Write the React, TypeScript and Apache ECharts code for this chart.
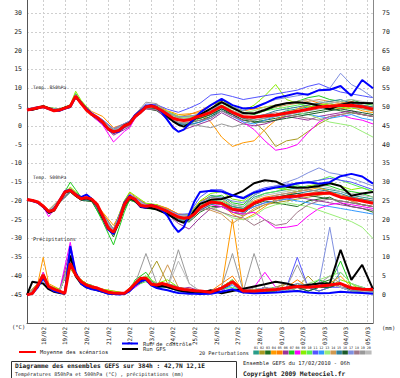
import React, { useEffect, useRef } from "react";
import * as echarts from "echarts";

// Forecast hours (run 17/02/2010 06h): 6h steps to 192h, then 12h
const HOURS = [0,6,12,18,24,30,36,42,48,54,60,66,72,78,84,90,96,102,108,114,120,126,132,138,144,150,156,162,168,174,180,186,192,204,216,228,240,252,264,276,288,300,312,324,336,348,360,372,384];
// Hours used for the 20 perturbations
const P_HOURS = [0,12,18,24,36,48,54,60,72,84,96,108,114,120,132,144,156,168,180,192,204,216,228,240,252,264,276,288,300,312,324,336,348,360,372,384];

const TICK_HOURS = [18,42,66,90,114,138,162,186,210,234,258,282,306,330,354,378];
const DATE_LABELS = ["18/02","19/02","20/02","21/02","22/02","23/02","24/02","25/02","26/02","27/02","28/02","01/03","02/03","03/03","04/03","05/03"];
const Y_LEFT_TICKS = [30,25,20,15,10,5,0,-5,-10,-15,-20,-25,-30,-35,-40,-45];
const Y_RIGHT_TICKS = [75,70,65,60,55,50,45,40,35,30,25,20,15,10,5,0];

// Temp 850 hPa (°C)
const MEAN_850 = [4.2,4.5,4.8,5.1,4.6,4.0,4.2,4.7,5.2,7.9,6.0,4.2,3.0,2.2,1.0,-0.8,-1.6,-1.2,0.0,0.6,2.5,3.6,5.0,5.3,4.8,4.0,3.0,2.0,1.6,1.4,1.6,2.2,2.6,3.6,5.2,3.6,2.4,2.3,2.6,2.9,3.4,3.9,4.4,5.0,5.2,5.4,5.5,5.1,4.4];
const CTRL_850 = [4.3,4.4,4.9,5.0,4.5,4.0,4.0,4.6,5.0,7.6,6.2,4.5,3.2,2.0,0.8,-1.0,-1.8,-1.5,-0.2,0.8,2.8,4.0,5.2,5.5,5.0,3.5,1.5,-0.5,-1.6,-1.0,0.5,2.0,3.5,5.5,7.2,5.5,4.6,4.8,6.0,7.4,8.0,8.7,8.3,9.5,9.6,10.6,8.0,12.2,10.0];
const GFS_850 = [4.2,4.3,4.7,5.2,4.7,4.1,4.3,4.8,5.3,7.8,6.1,4.3,3.0,2.1,0.9,-0.9,-1.7,-1.3,0.1,0.8,2.7,3.9,5.1,5.4,4.7,3.8,2.5,1.2,0.3,-0.2,0.5,1.8,3.0,4.6,6.3,4.8,3.4,3.3,4.2,5.4,6.0,6.3,6.0,5.4,4.4,5.6,6.2,6.1,6.0];

// Temp 500 hPa (°C)
const MEAN_500 = [-19.6,-19.9,-20.3,-21.4,-22.8,-22.4,-20.0,-17.6,-17.2,-18.4,-19.4,-19.1,-19.6,-21.0,-24.0,-27.2,-28.3,-25.5,-21.0,-18.9,-19.6,-21.2,-21.4,-21.2,-21.6,-22.2,-22.8,-23.6,-24.3,-24.6,-24.4,-23.5,-21.8,-20.3,-20.6,-22.2,-22.6,-20.6,-19.5,-19.2,-18.9,-18.7,-18.3,-18.0,-17.9,-19.0,-19.5,-20.0,-20.6];
const CTRL_500 = [-19.6,-20.0,-20.5,-21.6,-23.0,-22.2,-19.8,-17.4,-17.0,-18.2,-19.0,-18.3,-19.5,-21.2,-24.3,-27.6,-28.8,-25.0,-20.5,-18.6,-19.8,-21.5,-21.8,-21.0,-21.5,-22.5,-24.0,-26.5,-28.3,-27.0,-23.5,-20.0,-17.6,-17.3,-17.5,-18.5,-19.3,-17.8,-17.0,-16.4,-16.0,-15.3,-15.0,-15.4,-15.0,-13.4,-12.8,-13.5,-15.4];
const GFS_500 = [-19.6,-19.8,-20.4,-21.5,-23.2,-22.6,-20.2,-17.8,-17.3,-18.6,-19.6,-19.3,-19.8,-21.3,-24.5,-27.5,-28.6,-25.8,-21.2,-19.2,-20.0,-21.6,-21.8,-21.9,-22.3,-22.9,-23.5,-24.4,-25.3,-25.8,-24.6,-22.5,-20.8,-19.7,-19.5,-18.6,-17.3,-15.3,-14.5,-14.8,-16.2,-16.5,-16.4,-16.0,-15.3,-16.0,-18.6,-18.0,-17.6];

// Precipitations (mm, right axis)
const MEAN_PR = [0,0.4,2.5,5.3,2.2,1.5,1.0,0.4,8.4,5.3,3.5,2.6,2.1,1.8,1.2,0.7,0.5,0.4,0.4,1.5,3.0,4.4,4.4,2.8,2.6,3.0,2.6,2.1,1.7,1.4,1.3,1.1,1.0,0.7,1.8,3.5,1.0,1.0,1.2,1.4,1.8,2.2,2.0,2.3,2.6,3.0,1.8,1.5,1.4];
const CTRL_PR = [0,0.3,2.0,4.5,2.0,1.0,0.6,0.3,13.0,6.0,3.0,2.0,1.5,1.2,0.8,0.3,0.2,0.1,0.2,1.0,2.5,3.6,4.0,2.5,1.8,1.5,1.2,0.8,0.5,0.4,0.3,0.3,0.2,0.3,0.8,1.5,0.6,0.4,0.5,0.6,0.8,1.0,0.6,0.4,0.5,0.8,0.6,0.5,0.3];
const GFS_PR = [0,3.5,3.2,3.0,1.5,0.8,0.5,0.3,10.5,5.0,3.0,2.0,1.6,1.2,0.8,0.4,0.3,0.2,0.3,1.2,2.8,4.0,4.2,2.6,2.0,2.4,2.0,1.6,1.2,0.9,0.7,0.5,0.4,1.2,0.4,1.0,1.6,2.2,2.8,3.5,3.0,2.2,2.6,3.0,3.0,12.0,4.0,8.0,1.5];

// 20 perturbations, 850 hPa
const PERT_850 = [
  [4.0,4.6,5.0,4.4,4.0,5.0,8.2,6.2,3.2,1.2,-1.8,-0.3,0.5,2.8,5.4,5.0,3.2,1.8,1.8,2.0,3.0,4.5,3.5,2.0,1.5,2.0,3.0,4.0,4.5,5.0,5.5,6.0,6.5,5.5,5.0,4.0],
  [4.3,4.9,5.2,4.5,4.1,5.3,7.5,5.8,3.3,1.5,-1.0,0.3,1.0,2.4,4.8,4.4,2.8,2.2,2.6,3.0,4.0,5.5,4.0,2.5,1.0,-1.5,-5.5,-4.0,-3.5,-1.5,0.5,2.0,3.0,3.5,3.0,2.5],
  [4.1,4.7,5.0,4.7,4.3,5.1,7.8,6.3,2.8,0.6,-2.0,-0.5,0.2,2.2,4.6,4.0,2.0,0.5,0.8,1.5,2.5,4.0,3.0,1.5,1.0,1.5,2.0,2.5,3.0,3.5,4.0,4.5,4.0,3.5,3.0,2.5],
  [4.4,5.0,5.3,4.8,4.4,5.4,7.2,6.5,3.8,2.5,-0.5,0.5,1.2,2.9,5.3,5.6,4.0,3.0,3.2,3.5,1.0,-3.0,-5.5,-4.5,-4.0,-1.0,1.5,3.0,4.5,5.5,6.0,5.0,4.5,5.0,4.0,3.5],
  [4.2,4.8,5.2,4.6,4.1,5.0,8.0,5.9,2.9,0.8,-1.5,0.2,0.9,2.6,5.1,4.9,3.6,2.4,3.0,4.0,5.5,6.5,5.0,4.0,4.5,5.0,5.5,6.0,6.5,7.0,6.0,5.5,6.0,6.5,5.5,5.0],
  [4.0,4.5,4.9,4.3,4.0,4.9,7.9,5.7,2.6,0.4,-2.5,-1.0,-0.2,2.0,4.5,4.2,1.5,-1.5,-0.5,0.5,1.5,3.5,2.0,0.5,0.0,0.5,1.5,2.5,2.0,1.5,2.5,3.0,3.5,4.0,3.0,2.5],
  [4.3,4.9,5.1,4.7,4.3,5.4,8.6,6.4,3.1,1.0,-1.7,0.1,0.8,2.7,5.2,5.0,3.4,2.0,2.2,3.0,4.5,7.0,5.0,3.5,3.0,4.0,5.0,6.0,6.5,7.5,8.0,7.0,6.5,7.0,6.0,5.5],
  [4.1,4.7,5.0,4.5,4.2,5.1,7.7,5.8,2.7,0.2,-4.3,-1.5,-0.5,2.1,4.9,4.6,3.0,1.8,1.5,2.5,3.5,5.0,3.0,1.0,-1.0,-4.0,-6.5,-6.0,-5.0,-1.8,1.0,2.5,3.0,2.0,1.5,0.5],
  [4.4,5.0,5.4,4.9,4.5,5.6,9.2,6.8,3.4,1.3,-1.2,0.4,1.1,3.0,5.5,5.3,3.8,2.6,2.5,3.0,4.0,6.0,5.0,4.0,5.5,8.0,11.0,7.0,6.0,5.0,5.5,6.0,5.0,4.5,5.0,4.0],
  [4.2,4.8,5.1,4.6,4.2,5.2,7.6,5.9,2.9,0.9,-1.9,-0.2,0.4,2.3,4.8,4.6,2.6,0.8,0.6,2.0,3.0,5.0,4.0,3.0,3.5,4.0,4.5,5.0,5.5,6.0,5.0,4.5,5.0,5.5,4.5,4.0],
  [4.5,5.1,5.3,4.8,4.4,5.5,8.3,6.3,3.5,1.6,-0.8,0.6,1.3,3.2,5.8,5.6,4.4,3.6,4.7,6.0,8.2,8.5,7.8,7.0,7.5,8.0,8.5,9.0,9.5,10.5,11.2,10.0,9.0,8.5,8.0,7.5],
  [4.0,4.6,4.9,4.4,4.0,4.9,7.8,5.8,2.8,0.7,-1.8,-0.4,0.3,2.4,4.9,4.4,2.2,0.6,0.4,1.0,2.0,4.0,2.5,1.0,0.5,1.5,2.5,3.0,3.5,3.0,2.5,2.0,2.5,3.0,2.0,1.5],
  [4.3,4.9,5.2,4.7,4.3,5.3,8.1,6.1,3.0,1.1,-1.4,0.2,0.9,2.6,5.1,4.9,3.2,2.0,2.3,2.5,3.5,5.5,4.5,3.5,4.0,5.0,5.5,4.5,3.5,3.0,2.0,1.0,0.5,0.0,-1.5,-3.0],
  [4.2,4.7,5.0,4.5,4.1,5.1,7.9,5.9,3.0,1.0,-1.5,0.1,0.7,2.5,5.0,4.7,2.9,1.5,1.6,2.0,3.0,5.0,4.0,3.0,3.5,4.5,5.0,5.5,6.0,6.5,7.0,6.5,6.0,6.5,5.5,5.0],
  [4.1,4.6,5.0,4.4,4.1,5.0,7.7,6.0,3.1,1.1,-1.6,-0.1,0.5,2.4,4.8,4.5,2.5,0.5,0.2,1.0,2.5,4.5,3.5,2.0,2.5,3.0,4.0,4.5,5.0,5.5,6.0,6.5,7.0,6.0,5.5,5.0],
  [4.3,4.8,5.1,4.6,4.2,5.2,8.0,6.1,3.0,1.0,-1.7,0.0,0.6,2.5,4.9,4.6,2.8,1.4,1.6,2.0,3.0,4.5,3.0,1.5,1.0,1.0,1.5,2.0,2.5,3.0,3.5,4.0,4.5,4.0,3.5,3.0],
  [4.2,4.8,5.2,4.7,4.2,5.3,8.2,6.0,3.1,1.2,-1.3,0.3,1.0,2.8,5.3,5.1,3.6,2.4,2.6,3.0,4.0,6.0,5.0,4.0,5.0,6.0,7.0,7.5,8.0,8.5,9.5,10.0,14.0,11.0,9.5,7.5],
  [4.1,4.7,5.0,4.5,4.1,5.0,7.5,5.6,2.7,0.6,-2.2,-0.6,0.1,2.2,4.6,4.3,2.3,0.9,1.0,1.5,2.0,4.0,2.5,1.5,2.0,3.0,3.5,3.0,2.5,2.0,1.5,2.5,3.0,3.5,3.0,2.5],
  [4.3,4.9,5.2,4.7,4.3,5.3,7.8,6.2,3.2,1.4,-1.0,0.5,1.2,3.0,6.3,5.9,3.3,1.0,0.3,0.0,-0.5,0.5,-0.3,0.5,1.5,2.0,2.5,3.0,3.5,4.0,4.5,5.0,5.5,5.0,4.5,4.0],
  [4.2,4.8,5.1,4.6,4.2,5.2,8.0,6.0,3.0,1.1,-1.5,0.1,0.8,2.6,5.1,4.8,3.1,1.9,2.1,2.5,3.5,5.0,4.0,3.0,3.5,4.5,5.5,6.0,6.5,7.0,6.5,6.0,6.5,7.0,6.5,6.0],
];

// 20 perturbations, 500 hPa
const PERT_500 = [
  [-19.6,-20.2,-21.2,-22.5,-19.8,-16.8,-18.0,-19.2,-19.4,-23.5,-27.8,-20.4,-18.4,-19.2,-21.0,-21.2,-22.2,-23.8,-24.0,-20.5,-18.5,-19.0,-21.0,-21.5,-19.0,-18.0,-17.5,-17.0,-16.5,-16.0,-16.5,-17.0,-17.5,-18.5,-19.0,-19.5],
  [-19.5,-20.4,-21.5,-23.0,-20.3,-17.5,-18.6,-19.6,-20.0,-24.8,-29.0,-21.8,-19.4,-20.0,-21.8,-22.0,-23.3,-24.8,-25.0,-22.0,-20.5,-21.0,-23.0,-24.0,-22.5,-21.0,-20.5,-20.0,-19.5,-19.0,-18.5,-18.0,-19.0,-20.0,-21.0,-21.5],
  [-19.7,-20.5,-21.6,-23.2,-20.5,-17.7,-18.8,-19.8,-20.2,-25.0,-29.6,-22.2,-19.8,-20.2,-21.9,-22.3,-23.6,-25.2,-25.6,-23.0,-21.5,-21.5,-23.0,-23.5,-21.0,-20.0,-20.5,-21.0,-21.5,-20.0,-19.5,-19.0,-20.5,-21.5,-22.0,-23.0],
  [-19.6,-20.3,-21.3,-22.6,-20.0,-17.3,-18.5,-19.5,-19.3,-23.0,-26.5,-21.5,-19.5,-19.8,-21.0,-21.1,-22.0,-23.5,-23.8,-21.0,-20.0,-21.0,-23.5,-25.0,-23.5,-21.5,-19.5,-18.5,-17.5,-17.0,-16.5,-17.5,-18.5,-19.0,-19.5,-20.0],
  [-19.5,-20.2,-21.1,-22.4,-19.6,-16.5,-17.8,-19.0,-19.2,-23.2,-27.5,-20.0,-17.8,-18.9,-20.8,-21.0,-22.0,-23.5,-23.7,-20.0,-19.0,-19.5,-21.5,-22.0,-20.0,-19.0,-18.5,-18.0,-17.5,-17.0,-17.5,-18.0,-18.5,-19.0,-19.5,-20.5],
  [-19.6,-20.3,-21.4,-22.9,-20.1,-17.2,-18.3,-19.4,-19.7,-24.2,-28.4,-21.2,-19.0,-19.8,-21.6,-22.0,-23.5,-26.0,-27.5,-24.5,-22.0,-21.5,-22.5,-23.0,-21.5,-20.5,-20.0,-19.5,-19.0,-19.5,-20.0,-20.5,-21.0,-21.5,-22.0,-22.5],
  [-19.6,-20.4,-21.6,-23.1,-20.2,-15.0,-17.0,-19.0,-19.8,-25.5,-31.7,-23.0,-19.5,-20.4,-22.0,-22.2,-23.2,-24.6,-24.8,-21.5,-19.0,-18.5,-20.5,-21.0,-18.5,-17.0,-16.5,-16.5,-16.0,-16.5,-15.5,-16.0,-17.0,-17.5,-18.0,-19.0],
  [-19.6,-20.2,-21.5,-24.2,-20.4,-17.4,-18.6,-19.5,-19.6,-24.0,-28.8,-21.0,-18.6,-19.6,-21.4,-21.6,-22.8,-24.2,-24.6,-22.5,-21.0,-21.5,-23.0,-23.5,-23.0,-25.0,-27.2,-27.0,-26.5,-24.0,-22.0,-21.0,-20.5,-21.0,-21.5,-22.0],
  [-19.5,-20.2,-21.2,-22.5,-19.8,-16.3,-17.6,-19.0,-19.2,-23.5,-27.5,-20.0,-17.6,-18.6,-20.6,-21.0,-22.4,-23.8,-23.6,-20.0,-18.0,-17.5,-19.5,-20.0,-18.0,-17.0,-16.5,-17.0,-17.5,-16.0,-15.5,-15.0,-16.0,-17.0,-16.5,-17.5],
  [-19.7,-20.4,-21.4,-23.0,-20.2,-17.4,-18.6,-19.6,-19.8,-24.2,-28.5,-21.6,-19.2,-20.0,-21.8,-22.0,-23.0,-24.6,-25.0,-22.0,-20.0,-20.0,-21.5,-22.0,-19.5,-18.0,-17.5,-16.5,-15.5,-15.0,-14.5,-13.5,-14.5,-15.5,-16.5,-17.5],
  [-19.6,-20.3,-21.3,-22.7,-19.9,-17.0,-18.2,-19.3,-19.4,-23.6,-27.6,-20.5,-18.2,-19.2,-21.0,-21.3,-22.4,-23.6,-23.4,-19.0,-17.0,-17.0,-18.5,-19.0,-17.5,-16.5,-16.0,-15.5,-15.5,-15.0,-14.5,-14.0,-14.5,-15.0,-16.0,-17.0],
  [-19.6,-20.3,-21.4,-22.8,-20.0,-17.2,-18.4,-19.4,-19.6,-24.0,-28.3,-21.0,-18.8,-19.6,-21.4,-21.6,-22.6,-24.0,-24.2,-21.5,-20.5,-21.0,-22.5,-23.0,-21.5,-20.5,-20.0,-19.5,-20.0,-20.5,-21.0,-21.5,-22.0,-22.5,-23.0,-23.5],
  [-19.6,-20.3,-21.3,-22.7,-19.8,-16.8,-18.1,-19.3,-19.5,-24.0,-28.6,-21.4,-19.0,-19.8,-21.6,-21.8,-22.8,-24.0,-24.0,-21.0,-21.5,-23.0,-24.5,-25.0,-24.0,-22.0,-21.0,-20.5,-21.0,-21.5,-22.5,-23.5,-24.5,-25.5,-27.0,-30.0],
  [-19.6,-20.3,-21.4,-22.8,-20.0,-17.1,-18.3,-19.3,-19.5,-23.8,-28.0,-20.8,-18.7,-19.5,-21.3,-21.5,-22.5,-23.9,-24.2,-22.0,-22.5,-23.5,-26.0,-24.0,-22.0,-21.0,-20.0,-19.0,-18.5,-18.0,-17.5,-18.0,-19.0,-20.0,-21.0,-21.5],
  [-19.6,-20.4,-21.5,-23.0,-20.2,-17.5,-18.7,-19.7,-19.9,-24.4,-28.9,-21.6,-19.3,-20.0,-21.8,-22.1,-23.4,-25.0,-25.2,-22.5,-21.0,-20.5,-21.5,-22.0,-20.5,-19.5,-19.0,-18.5,-18.0,-17.5,-17.0,-17.5,-18.0,-19.0,-19.5,-20.0],
  [-19.6,-20.3,-21.3,-22.8,-20.0,-17.2,-18.4,-19.4,-19.6,-24.1,-28.4,-21.2,-19.0,-19.7,-21.5,-21.7,-22.8,-24.3,-24.5,-22.0,-20.5,-20.5,-22.0,-22.5,-20.5,-19.5,-19.0,-18.5,-18.0,-18.5,-19.0,-19.5,-20.0,-20.5,-21.0,-21.5],
  [-19.6,-20.2,-21.2,-22.6,-19.8,-16.9,-18.1,-19.2,-19.4,-23.6,-27.8,-20.6,-18.4,-19.3,-21.1,-21.3,-22.4,-23.8,-23.8,-20.5,-19.0,-19.0,-20.0,-20.5,-18.5,-17.0,-16.0,-15.0,-14.0,-12.5,-11.2,-12.5,-13.0,-14.0,-15.0,-16.0],
  [-19.6,-20.4,-21.5,-22.9,-20.1,-17.3,-18.5,-19.5,-19.7,-24.2,-28.6,-21.3,-19.1,-19.9,-21.7,-21.9,-23.0,-24.6,-24.8,-22.5,-22.0,-23.0,-24.0,-24.5,-26.5,-25.0,-26.5,-26.0,-23.0,-21.0,-20.0,-19.5,-20.0,-20.5,-21.0,-21.5],
  [-19.6,-20.3,-21.4,-22.8,-20.0,-17.1,-18.3,-19.4,-19.6,-23.9,-28.1,-21.0,-18.8,-19.6,-21.4,-21.6,-22.7,-24.1,-24.3,-21.5,-20.0,-20.5,-22.0,-22.5,-20.5,-19.5,-18.5,-18.0,-17.5,-17.0,-17.5,-18.0,-18.5,-19.5,-20.0,-20.5],
  [-19.6,-20.3,-21.3,-22.7,-19.9,-17.0,-18.2,-19.3,-19.5,-23.8,-28.0,-20.8,-18.6,-19.4,-21.2,-21.4,-22.5,-23.9,-24.1,-21.0,-19.5,-19.5,-21.0,-21.5,-19.5,-18.5,-18.0,-17.5,-17.0,-16.5,-16.0,-16.5,-17.5,-18.0,-18.5,-19.0],
];

// 20 perturbations, precipitations (mm)
const PERT_PR = [
  [0,2,5,2,1,9,5,3,2,1,0.5,0.3,1.5,3,5,2,3,2,1,0.5,0.5,2,4,1,0.5,1,2,1,3,2,4,2,6,3,2,1],
  [0,3,6,2.5,1,8,5.5,4,2,1.5,0.5,0.5,2,3.5,4,9,3,2,1.5,1,1,2,3,1,1,2,1,3,2,5,2,3,2,1,0.5,1],
  [0,2.5,4.5,2,0.5,10,6,3,2.5,1,0.3,0.2,1,2.5,4,2,2,1,1,1,0.5,1.5,3,0.5,2,1,1,2,1,2,3,4,2,1,1,0.5],
  [0,3,10,3,1.5,7,5,4,2,1.5,1,0.5,2,3,4.5,3,2.5,2,1,1,0.5,2,20,1,0.5,1,2,3,2,1,2,3,5,2,1,2],
  [0,2,5,2,1,9.5,5,3.5,2,1,0.5,0.5,1.5,3,5,2.5,3,1.5,1,1,1,3,5,1,1,1.5,1,2,4,2,1,2,3,2,2,1],
  [0,2.5,5.5,2.5,1,12,6,3,2,1,0.5,0.3,1.5,3,4,3,2,1.5,2,1,0.5,1,3,1.5,1,2,1,1.5,2,3,2,3,2,1.5,1,1],
  [0,2,5,2,1,8,5,3.5,2.5,1,0.5,0.5,1,4,6,2,3,2,1,0.5,1,2,4,1,1,1.5,2,1,3,2,4,3,9,2,2,1],
  [0,2.5,6,2,1,14,6,3,2,1,0.3,0.2,1,2,4,2.5,2,1.5,1,1,0.5,1,3,1,2,6,2,1,1,2,3,2,3,2,1,2],
  [0,3,5,2.5,1.5,7,5,4,2,1.5,1,0.5,2,3.5,5,3,4,2,1,1,1,2,4,1,1,1,2,3,2,1,2,2,4,3,1,1],
  [0,2,5,2,1,9,5,3,2,1,0.5,0.3,1.5,2.5,3.5,2,2,1.5,1,0.5,0.5,1.5,2,1,1,1,1,2,1,2,1,2,3,1,1,0.5],
  [0,2.5,5,2,1,8.5,5.5,3.5,2,1,0.5,0.5,1.5,3,4.5,2.5,3,1.5,1,1,1,2,3,1,1,2,1,2,10,2,1,2,2,1,2,1],
  [0,2,4,2,1,9,5,3,2,1,0.5,0.3,1,3,4,2,2,1,1,0.5,0.5,1.5,2.5,1,1,1,1.5,1,2,1,2,3,2,1,1,0.5],
  [0,2.5,5.5,2.5,1,8,5,3.5,2,1,0.5,0.5,2,3.5,5,3,3,2,1,1,1,2,4,1,1.5,1,2,1,2,3,4,5,6,3,2,1],
  [0,3,5,2,1,9,5,3,2.5,1.5,0.5,0.5,1.5,3,4,2,8,2,1,1,0.5,2,3,1,1,2,1,2,3,2,2,3,2,2,1,1],
  [0,2,5,2,1,9,6,3.5,2,1,0.5,0.3,1.5,3,4.5,2,2,1.5,1,0.5,1,2,3,1,1,1,2,1,2,3,2,2,3,2,1,1],
  [0,2.5,5,2.5,1,8,5,3,2,1,0.5,0.5,1.5,2.5,4,2.5,2,1.5,1,1,0.5,1.5,3,1,1,1,1,2,2,1,2,2,3,1,1,1],
  [0,2,5,2,1,9,5,3,2,1,0.5,0.5,1.5,3,4,2,2.5,2,1,1,1,2,3,1,1,2,1.5,2,3,2,3,18,2,2,1,1],
  [0,2.5,5,2,1,8.5,5.5,3.5,2,1,0.5,0.3,1.5,3,4.5,2.5,3,2,1.5,1,1,2,3.5,1.5,1,1,2,3,2,2,2,3,2,2,1,1],
  [0,2,5,2,1,9,5,3.5,2,1,0.5,0.5,1,3,11,3,2,12,3,1,1,2,11,1,11,2,1,2,8,2,3,5,3,2,1,1],
  [0,2.5,5,2.5,1,8,5,3,2,1,0.5,0.3,1.5,3,4,2.5,2,9,3,1,1,2,3,1,2,1,2,1,2,3,2,3,2,1,1,0.5],
];

const PERT_NAMES = ["01","02","03","04","05","06","07","08","09","10","11","12","13","14","15","16","17","18","19","20"];
const PERT_COLORS = ["#2a9d8a","#a89a20","#1f6f1f","#ff9900","#ff7f00","#993399","#22cc22","#ff00ff","#88ee00","#55ee55","#5555ff","#3399ff","#99ee77","#d09850","#2f7f9a","#1a5a2a","#7f8fe0","#a07888","#999999","#bbbbbb"];

const MONO = '"DejaVu Sans Mono"';
const TXT = "#222";

function pairs(hours: number[], vals: number[]) {
  return hours.map((h, i) => [h, vals[i]]);
}

function line(name: string, data: number[][], color: string, width: number, yAxisIndex: number, z: number) {
  return {
    type: "line",
    name,
    data,
    yAxisIndex,
    showSymbol: false,
    symbol: "none",
    silent: true,
    clip: true,
    z,
    lineStyle: { color, width },
    itemStyle: { color },
    emphasis: { disabled: true },
  };
}

function buildOption() {
  const series: any[] = [];
  PERT_850.forEach((v, i) => series.push(line("p850_" + PERT_NAMES[i], pairs(P_HOURS, v), PERT_COLORS[i], 1, 0, 2)));
  PERT_500.forEach((v, i) => series.push(line("p500_" + PERT_NAMES[i], pairs(P_HOURS, v), PERT_COLORS[i], 1, 0, 2)));
  PERT_PR.forEach((v, i) => series.push(line("ppr_" + PERT_NAMES[i], pairs(P_HOURS, v), PERT_COLORS[i], 1, 1, 2)));
  series.push(line("gfs850", pairs(HOURS, GFS_850), "#000000", 2, 0, 3));
  series.push(line("gfs500", pairs(HOURS, GFS_500), "#000000", 2, 0, 3));
  series.push(line("gfspr", pairs(HOURS, GFS_PR), "#000000", 2, 1, 3));
  series.push(line("ctl850", pairs(HOURS, CTRL_850), "#0000ff", 2, 0, 4));
  series.push(line("ctl500", pairs(HOURS, CTRL_500), "#0000ff", 2, 0, 4));
  series.push(line("ctlpr", pairs(HOURS, CTRL_PR), "#0000ff", 2, 1, 4));
  series.push(line("moy850", pairs(HOURS, MEAN_850), "#ff0000", 3, 0, 5));
  series.push(line("moy500", pairs(HOURS, MEAN_500), "#ff0000", 3, 0, 5));
  series.push(line("moypr", pairs(HOURS, MEAN_PR), "#ff0000", 3, 1, 5));

  const txt = (text: string, x: number, y: number, size: number, bold = false, align = "left") => ({
    type: "text",
    x,
    y,
    z: 100,
    silent: true,
    style: {
      text,
      fill: TXT,
      font: (bold ? "bold " : "") + size + "px " + MONO,
      align,
      verticalAlign: "middle",
    },
  });

  const graphic: any[] = [
    txt("Temp. 850hPa", 33, 87, 4.6),
    txt("Temp. 500hPa", 33, 177, 4.6),
    txt("Précipitations", 33, 239, 5.1),
    txt("(°C)", 12, 327, 5.5),
    txt("(mm)", 382, 328, 5.5),
    { type: "line", z: 100, shape: { x1: 19, y1: 352, x2: 36, y2: 352 }, style: { stroke: "#ff0000", lineWidth: 2 } },
    txt("Moyenne des scénarios", 40, 352, 5.4),
    { type: "line", z: 100, shape: { x1: 122, y1: 343.5, x2: 138, y2: 343.5 }, style: { stroke: "#0000ff", lineWidth: 2 } },
    txt("Run de contrôle", 143, 343.5, 5.4),
    { type: "line", z: 100, shape: { x1: 122, y1: 349, x2: 138, y2: 349 }, style: { stroke: "#000000", lineWidth: 2 } },
    txt("Run GFS", 143, 349, 5.4),
    txt("20 Perturbations", 199, 353, 5.2),
    { type: "rect", z: 99, shape: { x: 11.5, y: 361.5, width: 225, height: 30 }, style: { fill: "#ffffff", stroke: "#333333", lineWidth: 1 } },
    txt("Diagramme des ensembles GEFS sur 384h : 42,7N 12,1E", 15, 365.5, 6.2, true),
    txt("Températures 850hPa et 500hPa (°C) , précipitations (mm)", 15, 373.5, 5.0),
    txt("Ensemble GEFS du 17/02/2010 - 06h", 243, 363, 5.4),
    txt("Copyright 2009 Meteociel.fr", 243, 373.5, 6.3, true),
  ];
  PERT_NAMES.forEach((n, i) => {
    const x = 253.3 + i * 5.93;
    graphic.push({ type: "rect", z: 100, shape: { x, y: 350.5, width: 5.6, height: 4 }, style: { fill: PERT_COLORS[i] } });
    graphic.push({
      type: "text", x: x + 2.8, y: 347.5, z: 100, silent: true,
      style: { text: n, fill: TXT, font: "3.4px " + MONO, align: "center", verticalAlign: "middle" },
    });
  });

  const grid = { lineStyle: { color: "#cfcfcf", width: 1, type: [2, 2] } };

  return {
    animation: false,
    backgroundColor: "#ffffff",
    grid: { left: 27, right: 27, top: 0, bottom: 55, containLabel: false },
    xAxis: {
      type: "value",
      min: 0,
      max: 384,
      axisLine: { show: true, onZero: false, lineStyle: { color: "#555", width: 1 } },
      axisTick: { show: false, customValues: TICK_HOURS },
      axisLabel: {
        customValues: TICK_HOURS,
        rotate: 90,
        margin: 4,
        fontSize: 6,
        fontFamily: "DejaVu Sans Mono",
        color: TXT,
        formatter: (v: number) => DATE_LABELS[TICK_HOURS.indexOf(v)] ?? "",
      },
      splitLine: { show: true, ...grid },
    },
    yAxis: [
      {
        type: "value",
        min: -52.5,
        max: 33.5,
        position: "left",
        axisLine: { show: true, onZero: false, lineStyle: { color: "#555", width: 1 } },
        axisTick: { show: false, customValues: Y_LEFT_TICKS },
        axisLabel: { customValues: Y_LEFT_TICKS, margin: 5, fontSize: 6.5, fontFamily: "DejaVu Sans Mono", color: TXT },
        splitLine: { show: true, ...grid },
      },
      {
        type: "value",
        min: -7.5,
        max: 78.5,
        position: "right",
        axisLine: { show: true, onZero: false, lineStyle: { color: "#888", width: 1 } },
        axisTick: { show: false, customValues: Y_RIGHT_TICKS },
        axisLabel: { customValues: Y_RIGHT_TICKS, margin: 9, fontSize: 6.5, fontFamily: "DejaVu Sans Mono", color: TXT },
        splitLine: { show: false },
      },
    ],
    series,
    graphic,
  };
}

export default function App() {
  const ref = useRef<HTMLDivElement>(null);
  useEffect(() => {
    if (!ref.current) return;
    const chart = echarts.init(ref.current, null, { renderer: "svg" });
    chart.setOption(buildOption() as any);
    return () => chart.dispose();
  }, []);
  return (
    <div
      ref={ref}
      style={{ position: "absolute", left: 0, top: 0, width: 400, height: 378, background: "#fff" }}
    />
  );
}
